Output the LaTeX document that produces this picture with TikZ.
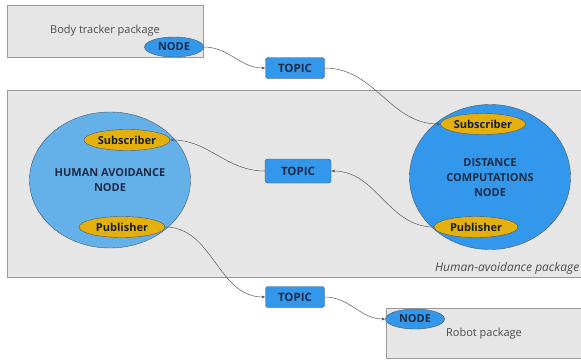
\documentclass[tikz,border=0pt]{standalone}
\usepackage{fontspec}
\setmainfont{Open Sans}
\usetikzlibrary{arrows.meta,shapes.geometric}
\definecolor{pkggrey}{HTML}{E6E6E6}
\definecolor{pkgline}{HTML}{9A9A9A}
\definecolor{rosblue}{HTML}{3398EC}
\definecolor{lightblue}{HTML}{64B1EA}
\definecolor{portyellow}{HTML}{E5B00C}
\definecolor{inkblue}{HTML}{1B2B45}
\newcommand{\labelsize}{\fontsize{11}{15}\selectfont}
\tikzset{
  package/.style = {draw = pkgline, fill = pkggrey, line width = 0.8pt},
  rosnode/.style = {ellipse, draw = inkblue!80, fill = rosblue, inner sep = 0pt,
    font = \bfseries\labelsize, text = inkblue},
  topicbox/.style = {rectangle, rounded corners = 2.5pt, draw = inkblue!80, fill = rosblue,
    minimum width = 59pt, minimum height = 21pt, font = \bfseries\fontsize{11.5}{14}\selectfont, text = inkblue},
  port/.style = {ellipse, draw = inkblue!80, fill = portyellow, inner sep = 0pt,
    minimum width = 86pt, minimum height = 21pt, font = \bfseries\labelsize, text = inkblue!70!black},
  link/.style = {draw = black!65, line width = 0.5pt, -{Stealth[length = 4pt, width = 3pt]}}
}
\begin{document}
\begin{tikzpicture}[x = 1pt, y = -1pt]
        \useasboundingbox (0, 0) rectangle (581, 364);
        % packages
        \draw[package] (7, 5) rectangle (203, 57);
        \node[text = black!70, font = \labelsize] (bodytxt) at (105, 31) {Body tracker package};
        \draw[package] (7, 90) rectangle (585, 277);
        \node[anchor = east, inner sep = 0pt, text = black!70, font = \itshape\fontsize{12}{14}\selectfont] (hatxt) at (579.5, 268) {Human-avoidance package};
        \draw[package] (386, 308) rectangle (585, 358);
        \node[text = black!70, font = \labelsize] (robottxt) at (484, 334) {Robot package};

        % big nodes
        \node[ellipse, draw = inkblue!80, fill = lightblue, minimum width = 161pt, minimum height = 136pt] (hanode) at (110, 180) {};
        \node[align = center, font = \bfseries\labelsize, text = inkblue] (hatext) at (110, 180) {HUMAN AVOIDANCE\\NODE};
        \node[ellipse, draw = inkblue!80, fill = rosblue, minimum width = 161pt, minimum height = 145pt] (dcnode) at (490, 177) {};
        \node[align = center, font = \bfseries\labelsize, text = inkblue] (dctext) at (490, 178) {DISTANCE\\COMPUTATIONS\\NODE};

        % ports
        \node[port] (hasub) at (127, 140) {Subscriber};
        \node[port] (hapub) at (122, 227) {Publisher};
        \node[port, minimum width = 85pt] (dcsub) at (483, 124) {Subscriber};
        \node[port, minimum width = 84pt] (dcpub) at (476, 227) {Publisher};

        % outer nodes
        \node[rosnode, minimum width = 59pt, minimum height = 20pt] (bodynode) at (174, 47) {NODE};
        \node[rosnode, minimum width = 59pt, minimum height = 20pt] (robotnode) at (415, 319) {NODE};

        % topics
        \node[topicbox] (topicA) at (295, 68) {TOPIC};
        \node[topicbox, minimum width = 66pt, minimum height = 24pt] (topicB) at (298, 171) {TOPIC};
        \node[topicbox] (topicC) at (295, 297) {TOPIC};

        % links
        \draw[link] (bodynode.east) to[out = 0, in = 180] (topicA.west);
        \draw[link] (topicA.east) to[out = 0, in = 180] (dcsub.west);
        \draw[link] (dcpub.west) to[out = 180, in = 0] (topicB.east);
        \draw[link] (topicB.west) to[out = 180, in = 0] (hasub.east);
        \draw[link] (hapub.east) to[out = 0, in = 180] (topicC.west);
        \draw[link] (topicC.east) to[out = 0, in = 180] (robotnode.west);

    \end{tikzpicture}
\end{document}
